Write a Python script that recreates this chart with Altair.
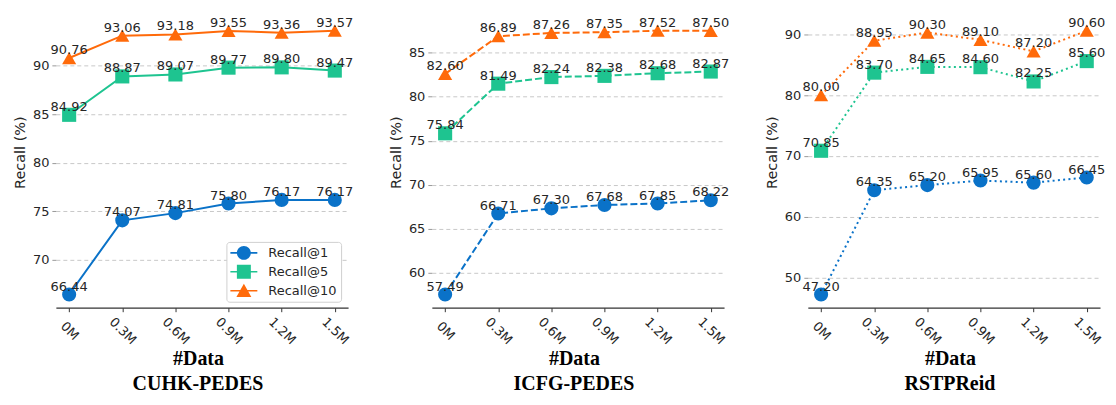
import altair as alt
import pandas as pd

x_labels = ["0M", "0.3M", "0.6M", "0.9M", "1.2M", "1.5M"]
series_names = ["Recall@1", "Recall@5", "Recall@10"]
series_colors = ["#0a72c8", "#1ec490", "#ff6a0a"]
series_shapes = ["circle", "square", "triangle-up"]

cuhk_r1 = [66.44, 74.07, 74.81, 75.80, 76.17, 76.17]
cuhk_r5 = [84.92, 88.87, 89.07, 89.77, 89.80, 89.47]
cuhk_r10 = [90.76, 93.06, 93.18, 93.55, 93.36, 93.57]

icfg_r1 = [57.49, 66.71, 67.30, 67.68, 67.85, 68.22]
icfg_r5 = [75.84, 81.49, 82.24, 82.38, 82.68, 82.87]
icfg_r10 = [82.60, 86.89, 87.26, 87.35, 87.52, 87.50]

rstp_r1 = [47.20, 64.35, 65.20, 65.95, 65.60, 66.45]
rstp_r5 = [70.85, 83.70, 84.65, 84.60, 82.25, 85.60]
rstp_r10 = [80.00, 88.95, 90.30, 89.10, 87.20, 90.60]

cuhk_ticks = [70, 75, 80, 85, 90]
icfg_ticks = [60, 65, 70, 75, 80, 85]
rstp_ticks = [50, 60, 70, 80, 90]

# legend symbols: line + marker (unit = half of a 14px symbol)
legend_paths = [
    "M-1,-0.11H2.86V0.11H-1Z M-0.07,0A1,1 0 1,1 1.93,0A1,1 0 1,1 -0.07,0Z",
    "M-1,-0.11H2.86V0.11H-1Z M-0.07,-1H1.93V1H-0.07Z",
    "M-1,-0.11H2.86V0.11H-1Z M0.93,-1L2,0.9L-0.14,0.9Z",
]

W, H = 293, 291
FONT = "DejaVu Sans"
SERIF = "Liberation Serif"


def panel(title, series, ticks, dash, show_legend):
    lo = min(min(s) for s in series)
    hi = max(max(s) for s in series)
    m = (hi - lo) * 0.05
    ydom = [lo - m, hi + m]
    xenc = alt.X(
        "x:N",
        sort=x_labels,
        scale=alt.Scale(type="point", domain=x_labels, padding=0.25),
        axis=alt.Axis(
            title="#Data", titleFont=SERIF, titleFontSize=20, titleFontWeight="bold",
            titleColor="black", titlePadding=2, titleX=W / 2 - 4,
            labelAngle=45, labelAlign="center", labelBaseline="middle", labelPadding=19,
            labelFont=FONT, labelFontSize=13, labelColor="#262626",
            tickSize=4, tickColor="#333333", domainColor="#333333", domainWidth=1.2,
            grid=False,
        ),
    )
    yenc = alt.Y(
        "y:Q",
        scale=alt.Scale(domain=ydom, nice=False, zero=False),
        axis=alt.Axis(
            title="Recall (%)", titleFont=FONT, titleFontSize=14.5, titleFontWeight="normal",
            titleColor="#262626", titlePadding=5, titleY=135,
            values=ticks, labelFont=FONT, labelFontSize=13, labelColor="#262626", labelPadding=3,
            tickSize=4, tickColor="#999999", domain=False,
            grid=True, gridDash=[4, 3], gridColor="#c8c8c8", gridWidth=1,
        ),
    )
    layers = []
    for name, vals, col, shp in zip(series_names, series, series_colors, series_shapes):
        df = pd.DataFrame({"x": x_labels, "y": vals, "s": name})
        base = alt.Chart(df).encode(x=xenc, y=yenc)
        line_kw = dict(color=col, strokeWidth=2)
        if dash:
            line_kw["strokeDash"] = dash
        layers.append(base.mark_line(**line_kw))
        layers.append(base.mark_point(shape=shp, filled=True, opacity=1, size=200, color=col))
    for name, vals in zip(series_names, series):
        df = pd.DataFrame({"x": x_labels, "y": vals, "s": name})
        base = alt.Chart(df).encode(x=xenc, y=yenc)
        layers.append(
            base.mark_text(font=FONT, fontSize=13, color="#262626", baseline="bottom", dy=-1)
            .encode(text=alt.Text("y:Q", format=".2f"))
        )
    if show_legend:
        ldf = pd.DataFrame({"s": series_names})
        leg = dict(
            title=None, orient="none", legendX=171, legendY=225,
            labelFont=FONT, labelFontSize=13, labelColor="#262626",
            symbolSize=196, symbolStrokeWidth=0, rowPadding=5, labelOffset=24,
            padding=4, strokeColor="#d0d0d0", fillColor="white", cornerRadius=3,
        )
        layers.append(
            alt.Chart(ldf)
            .transform_filter("false")
            .mark_point(filled=True, opacity=1)
            .encode(
                color=alt.Color(
                    "s:N",
                    scale=alt.Scale(domain=series_names, range=series_colors),
                    legend=alt.Legend(**leg),
                ),
                shape=alt.Shape(
                    "s:N",
                    scale=alt.Scale(domain=series_names, range=legend_paths),
                    legend=alt.Legend(**leg),
                ),
            )
        )
    return alt.layer(*layers).properties(
        width=W, height=H,
        title=alt.TitleParams(
            title, orient="bottom", font=SERIF, fontSize=20, fontWeight="bold",
            color="black", offset=5, dx=-4,
        ),
    )


p1 = panel("CUHK-PEDES", [cuhk_r1, cuhk_r5, cuhk_r10], cuhk_ticks, None, True)
p2 = panel("ICFG-PEDES", [icfg_r1, icfg_r5, icfg_r10], icfg_ticks, [7, 3], False)
p3 = panel("RSTPReid", [rstp_r1, rstp_r5, rstp_r10], rstp_ticks, [2, 3.3], False)

chart = (
    alt.hconcat(p1, p2, p3, spacing=84, bounds="flush")
    .resolve_scale(x="independent", y="independent")
    .properties(padding={"left": 4, "top": 8, "right": 2, "bottom": 2}, background="white")
    .configure_view(strokeWidth=0)
)

chart.save("out.html", embed_options={"renderer": "svg", "actions": False})
